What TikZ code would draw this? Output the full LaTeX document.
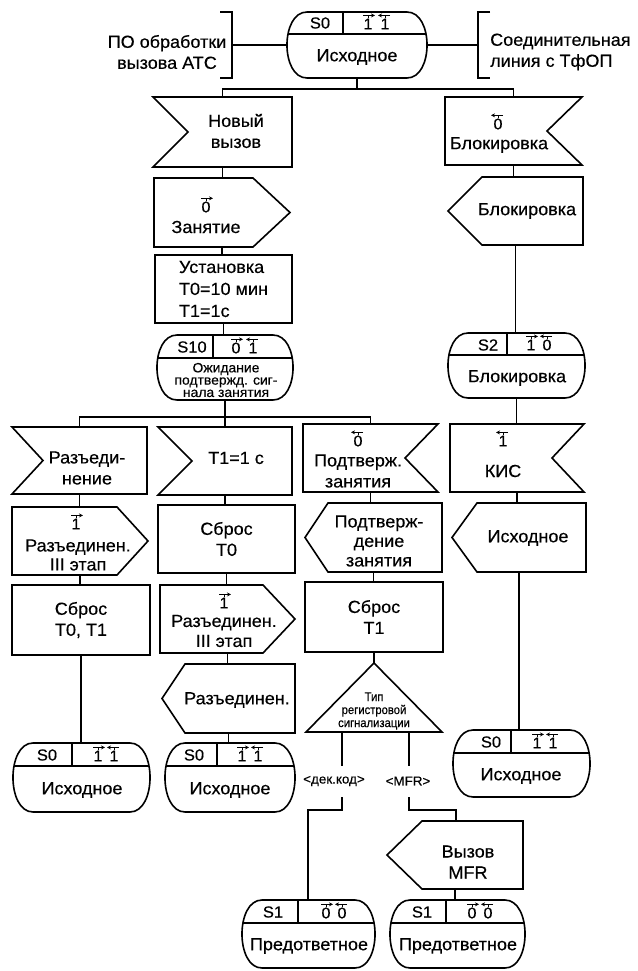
\documentclass[tikz,border=0pt]{standalone}
\usepackage{fontspec}
\setmainfont{Liberation Sans}[FakeStretch=1.03,FakeBold=0.4]
\newfontfamily\narrowf{Liberation Sans}[FakeStretch=0.9,FakeBold=0.3]
\usetikzlibrary{arrows.meta}
\newcommand\mainf{\fontsize{17.5}{21}\selectfont}
\tikzset{
  ln/.style={line width=1.6pt},
  bb/.style={draw=none, inner sep=0pt, outer sep=0pt},
  procbox/.style={draw, line width=1.6pt, inner sep=0pt, outer sep=0pt, align=center, font=\mainf},
  txt/.style={inner sep=0pt, align=center, font=\mainf},
  stname/.style={inner sep=0pt, font=\fontsize{16}{16}\selectfont},
  bitf/.style={inner sep=0pt, font=\fontsize{15.5}{15.5}\selectfont},
  bitar/.style={line width=0.9pt, -{Stealth[length=4pt,width=4pt]}},
  bittick/.style={line width=0.9pt},
  smalltxt/.style={inner sep=0pt, align=center, font=\fontsize{13}{13}\selectfont},
}
\newcommand\sdlInL[2]{\draw[ln] (#1.north west) -- (#1.north east) -- (#1.south east) -- (#1.south west) -- ([xshift=#2]#1.west) -- cycle;}
\newcommand\sdlInR[2]{\draw[ln] (#1.north west) -- (#1.north east) -- ([xshift=-#2]#1.east) -- (#1.south east) -- (#1.south west) -- cycle;}
\newcommand\sdlOutR[2]{\draw[ln] (#1.north west) -- ([xshift=-#2]#1.north east) -- (#1.east) -- ([xshift=-#2]#1.south east) -- (#1.south west) -- cycle;}
\newcommand\sdlOutL[2]{\draw[ln] (#1.north east) -- (#1.south east) -- ([xshift=#2]#1.south west) -- (#1.west) -- ([xshift=#2]#1.north west) -- cycle;}
\newcommand\sdlState[3]{%
  \draw[ln] ([xshift=20pt]#1.north west) -- ([xshift=-20pt]#1.north east) .. controls ([xshift=6.7pt]#1.north east) and ([xshift=6.7pt]#1.south east) .. ([xshift=-20pt]#1.south east) -- ([xshift=20pt]#1.south west) .. controls ([xshift=-6.7pt]#1.south west) and ([xshift=-6.7pt]#1.north west) .. ([xshift=20pt]#1.north west) -- cycle;
  \coordinate (#1-hy) at (#3,#2);
  \begin{scope}
    \clip ([xshift=20pt]#1.north west) -- ([xshift=-20pt]#1.north east) .. controls ([xshift=6.7pt]#1.north east) and ([xshift=6.7pt]#1.south east) .. ([xshift=-20pt]#1.south east) -- ([xshift=20pt]#1.south west) .. controls ([xshift=-6.7pt]#1.south west) and ([xshift=-6.7pt]#1.north west) .. ([xshift=20pt]#1.north west) -- cycle;
    \draw[ln] (#1.west |- #1-hy) -- (#1.east |- #1-hy);
  \end{scope}
  \draw[ln] (#1.north -| #1-hy) -- (#1-hy);
}
\newcommand\sdlBitR[4]{\node[bitf] (#1) at (#2,#3) {#4};
  \draw[bittick] (#1.north) -- ([yshift=3pt]#1.north);
  \draw[bitar] ([xshift=-5pt,yshift=3pt]#1.north) -- ([xshift=7pt,yshift=3pt]#1.north);}
\newcommand\sdlBitL[4]{\node[bitf] (#1) at (#2,#3) {#4};
  \draw[bittick] (#1.north) -- ([yshift=3pt]#1.north);
  \draw[bitar] ([xshift=5pt,yshift=3pt]#1.north) -- ([xshift=-7pt,yshift=3pt]#1.north);}
\begin{document}
\begin{tikzpicture}[x=1pt,y=-1pt]
\useasboundingbox (0,0) rectangle (637,971);
% ---------- top
\node[txt] (potext) at (167,52) {ПО обработки\\вызова АТС};
\node[txt, anchor=west, align=left] (sltext) at (490,52) {Соединительная\\линия с ТфОП};
\draw[ln] (220,12) -- (232,12) -- (232,78) -- (220,78);
\draw[ln] (490,12) -- (478,12) -- (478,78) -- (490,78);
\coordinate (bl) at (232,45);
\coordinate (br) at (478,45);
\node[bb, minimum width=140pt, minimum height=66pt] (st0) at (357,45) {};
\sdlState{st0}{34}{343}
\node[stname] (st0-n) at (320,23) {S0};
\sdlBitR{st0-b1}{368}{24}{1}
\sdlBitL{st0-b2}{385}{24}{1}
\node[txt] (st0-t) at (357,57) {Исходное};
\draw[ln] (bl) -- (st0.west);
\draw[ln] (st0.east) -- (br);
\coordinate (br0) at (357,89);
% ---------- left column
\node[bb, minimum width=139pt, minimum height=70pt] (nv) at (222.5,132) {};
\sdlInL{nv}{35pt}
\node[txt] (nv-t) at (236,131) {Новый\\вызов};
\node[bb, minimum width=136pt, minimum height=69pt] (zan) at (222,212.5) {};
\sdlOutR{zan}{37pt}
\sdlBitR{zan-b}{206}{207}{0}
\node[txt] (zan-t) at (206,227) {Занятие};
\node[procbox, minimum width=137pt, minimum height=68pt, align=left, font=\fontsize{17.5}{22}\selectfont] (ust) at (223.5,289) {Установка\\T0=10 мин\\T1=1c};
\node[bb, minimum width=136pt, minimum height=65pt] (s10) at (225,367.5) {};
\sdlState{s10}{358}{213}
\node[stname] (s10-n) at (192,347) {S10};
\sdlBitR{s10-b1}{236}{348}{0}
\sdlBitL{s10-b2}{253}{348}{1}
\node[txt, font=\fontsize{13.5}{12.3}\selectfont] (s10-t) at (226,380) {Ожидание\\подтвержд. сиг-\\нала занятия};
\coordinate (br1) at (225,417);
% ---------- right column
\node[bb, minimum width=137pt, minimum height=68pt] (blk) at (513.5,131) {};
\sdlInR{blk}{35pt}
\sdlBitL{blk-b}{498}{124}{0}
\node[txt] (blk-t) at (499,145) {Блокировка};
\node[bb, minimum width=135pt, minimum height=68pt] (blkout) at (515.5,211) {};
\sdlOutL{blkout}{34pt}
\node[txt] (blkout-t) at (527,211) {Блокировка};
\node[bb, minimum width=137pt, minimum height=65pt] (s2) at (516.5,365.5) {};
\sdlState{s2}{355}{507}
\node[stname] (s2-n) at (488,345) {S2};
\sdlBitR{s2-b1}{531}{345}{1}
\sdlBitL{s2-b2}{547}{345}{0}
\node[txt] (s2-t) at (517,378) {Блокировка};
\node[bb, minimum width=134pt, minimum height=68pt] (kis) at (517,458) {};
\sdlInR{kis}{32pt}
\sdlBitL{kis-b}{503}{441}{1}
\node[txt] (kis-t) at (503,471) {КИС};
\node[bb, minimum width=134pt, minimum height=69pt] (ishout) at (519,537.5) {};
\sdlOutL{ishout}{25pt}
\node[txt] (ishout-t) at (528,538) {Исходное};
\node[bb, minimum width=137pt, minimum height=67pt] (s0r) at (521.5,763.5) {};
\sdlState{s0r}{753}{511}
\node[stname] (s0r-n) at (491,742) {S0};
\sdlBitR{s0r-b1}{537}{743}{1}
\sdlBitL{s0r-b2}{553}{743}{1}
\node[txt] (s0r-t) at (521,776) {Исходное};
% ---------- column A
\node[bb, minimum width=135pt, minimum height=67pt] (razin) at (79.5,460.5) {};
\sdlInL{razin}{31pt}
\node[txt] (razin-t) at (87,468) {Разъеди-\\нение};
\node[bb, minimum width=136pt, minimum height=68pt] (razout) at (80,541) {};
\sdlOutR{razout}{31pt}
\sdlBitR{razout-b}{76}{524}{1}
\node[txt, font=\fontsize{17.5}{19}\selectfont] (razout-t) at (78,555) {Разъединен.\\III этап};
\node[procbox, minimum width=138pt, minimum height=70pt] (sbrA) at (81,620) {Сброс\\T0, T1};
\node[bb, minimum width=137pt, minimum height=69pt] (s0a) at (81.5,777.5) {};
\sdlState{s0a}{766}{72}
\node[stname] (s0a-n) at (47,755) {S0};
\sdlBitR{s0a-b1}{98}{756}{1}
\sdlBitL{s0a-b2}{114}{756}{1}
\node[txt] (s0a-t) at (82,790) {Исходное};
% ---------- column B
\node[bb, minimum width=134pt, minimum height=68pt] (t1in) at (225,461) {};
\sdlInL{t1in}{34pt}
\node[txt] (t1in-t) at (236,458) {T1=1 c};
\node[procbox, minimum width=137pt, minimum height=68pt] (sbrB) at (226.5,539) {Сброс\\T0};
\node[bb, minimum width=135pt, minimum height=68pt] (razout2) at (227.5,619) {};
\sdlOutR{razout2}{32pt}
\sdlBitR{razout2-b}{224}{603}{1}
\node[txt, font=\fontsize{17.5}{20}\selectfont] (razout2-t) at (224,631) {Разъединен.\\III этап};
\node[bb, minimum width=133pt, minimum height=69pt] (razoutL) at (228.5,698.5) {};
\sdlOutL{razoutL}{23pt}
\node[txt] (razoutL-t) at (237,700) {Разъединен.};
\node[bb, minimum width=130pt, minimum height=69pt] (s0b) at (230,777.5) {};
\sdlState{s0b}{766}{217}
\node[stname] (s0b-n) at (194,755) {S0};
\sdlBitR{s0b-b1}{242}{756}{1}
\sdlBitL{s0b-b2}{258}{756}{1}
\node[txt] (s0b-t) at (230,790) {Исходное};
% ---------- column C
\node[bb, minimum width=135pt, minimum height=68pt] (podin) at (370.5,458) {};
\sdlInR{podin}{33pt}
\sdlBitL{podin-b}{358}{441}{0}
\node[txt] (podin-t) at (358,471) {Подтверж.\\занятия};
\node[bb, minimum width=137pt, minimum height=69pt] (podout) at (373.5,537.5) {};
\sdlOutL{podout}{23pt}
\node[txt, font=\fontsize{17.5}{19.5}\selectfont] (podout-t) at (379,541) {Подтверж-\\дение\\занятия};
\node[procbox, minimum width=138pt, minimum height=70pt] (sbrC) at (374,617) {Сброс\\T1};
\node[bb, minimum width=136pt, minimum height=69pt] (tri) at (374,697.5) {};
\draw[ln] (tri.north) -- (tri.south east) -- (tri.south west) -- cycle;
\node[inner sep=0pt, align=center, font=\narrowf\fontsize{12.5}{13}\selectfont] (tri-t) at (374,711) {Тип\\регистровой\\сигнализации};
\node[smalltxt] (lab1) at (334,781) {<дек.код>};
\node[smalltxt] (lab2) at (408,781) {<MFR>};
\coordinate (d1t) at (342,732);
\coordinate (d1m) at (342,766);
\coordinate (d1b) at (342,797);
\coordinate (k1) at (308,810);
\coordinate (d2t) at (409,732);
\coordinate (d2m) at (409,766);
\coordinate (d2b) at (409,797);
\coordinate (k2) at (456,810);
\node[bb, minimum width=136pt, minimum height=68pt] (mfr) at (455,855) {};
\sdlOutL{mfr}{35pt}
\node[txt] (mfr-t) at (468,862) {Вызов\\MFR};
\node[bb, minimum width=133pt, minimum height=68pt] (s1a) at (308.5,934) {};
\sdlState{s1a}{923}{298}
\node[stname] (s1a-n) at (273,912) {S1};
\sdlBitR{s1a-b1}{326}{913}{0}
\sdlBitL{s1a-b2}{342}{913}{0}
\node[txt] (s1a-t) at (309,946) {Предответное};
\node[bb, minimum width=135pt, minimum height=68pt] (s1b) at (457.5,934) {};
\sdlState{s1b}{923}{446}
\node[stname] (s1b-n) at (422,912) {S1};
\sdlBitR{s1b-b1}{472}{913}{0}
\sdlBitL{s1b-b2}{488}{913}{0}
\node[txt] (s1b-t) at (458,946) {Предответное};
% ---------- connectors
\draw[ln] (st0.south) -- (st0.south |- br0);
\draw[ln] (nv.north) |- (br0) -| (blk.north);
\draw[ln] (nv.south) -- (nv.south |- zan.north);
\draw[ln] (zan.south) -- (zan.south |- ust.north);
\draw[ln] (ust.south) -- (ust.south |- s10.north);
\draw[ln] (s10.south) -- (s10.south |- br1);
\draw[ln] (razin.north) |- (br1) -| (podin.north);
\draw[ln] (t1in.north) -- (t1in.north |- br1);
\draw[ln] (blk.south) -- (blk.south |- blkout.north);
\draw[ln] (blkout.south) -- (blkout.south |- s2.north);
\draw[ln] (s2.south) -- (s2.south |- kis.north);
\draw[ln] (kis.south) -- (kis.south |- ishout.north);
\draw[ln] (ishout.south) -- (ishout.south |- s0r.north);
\draw[ln] (razin.south) -- (razin.south |- razout.north);
\draw[ln] (razout.south) -- (razout.south |- sbrA.north);
\draw[ln] (sbrA.south) -- (sbrA.south |- s0a.north);
\draw[ln] (t1in.south) -- (t1in.south |- sbrB.north);
\draw[ln] (sbrB.south) -- (sbrB.south |- razout2.north);
\draw[ln] (razout2.south) -- (razout2.south |- razoutL.north);
\draw[ln] (razoutL.south) -- (razoutL.south |- s0b.north);
\draw[ln] (podin.south) -- (podin.south |- podout.north);
\draw[ln] (podout.south) -- (podout.south |- sbrC.north);
\draw[ln] (sbrC.south) -- (tri.north);
\draw[ln] (d1t) -- (d1m);
\draw[ln] (d2t) -- (d2m);
\draw[ln] (d1b) |- (k1) -- (k1 |- s1a.north);
\draw[ln] (d2b) |- (k2) -- (k2 |- mfr.north);
\draw[ln] (mfr.south) -- (mfr.south |- s1b.north);
\end{tikzpicture}
\end{document}
